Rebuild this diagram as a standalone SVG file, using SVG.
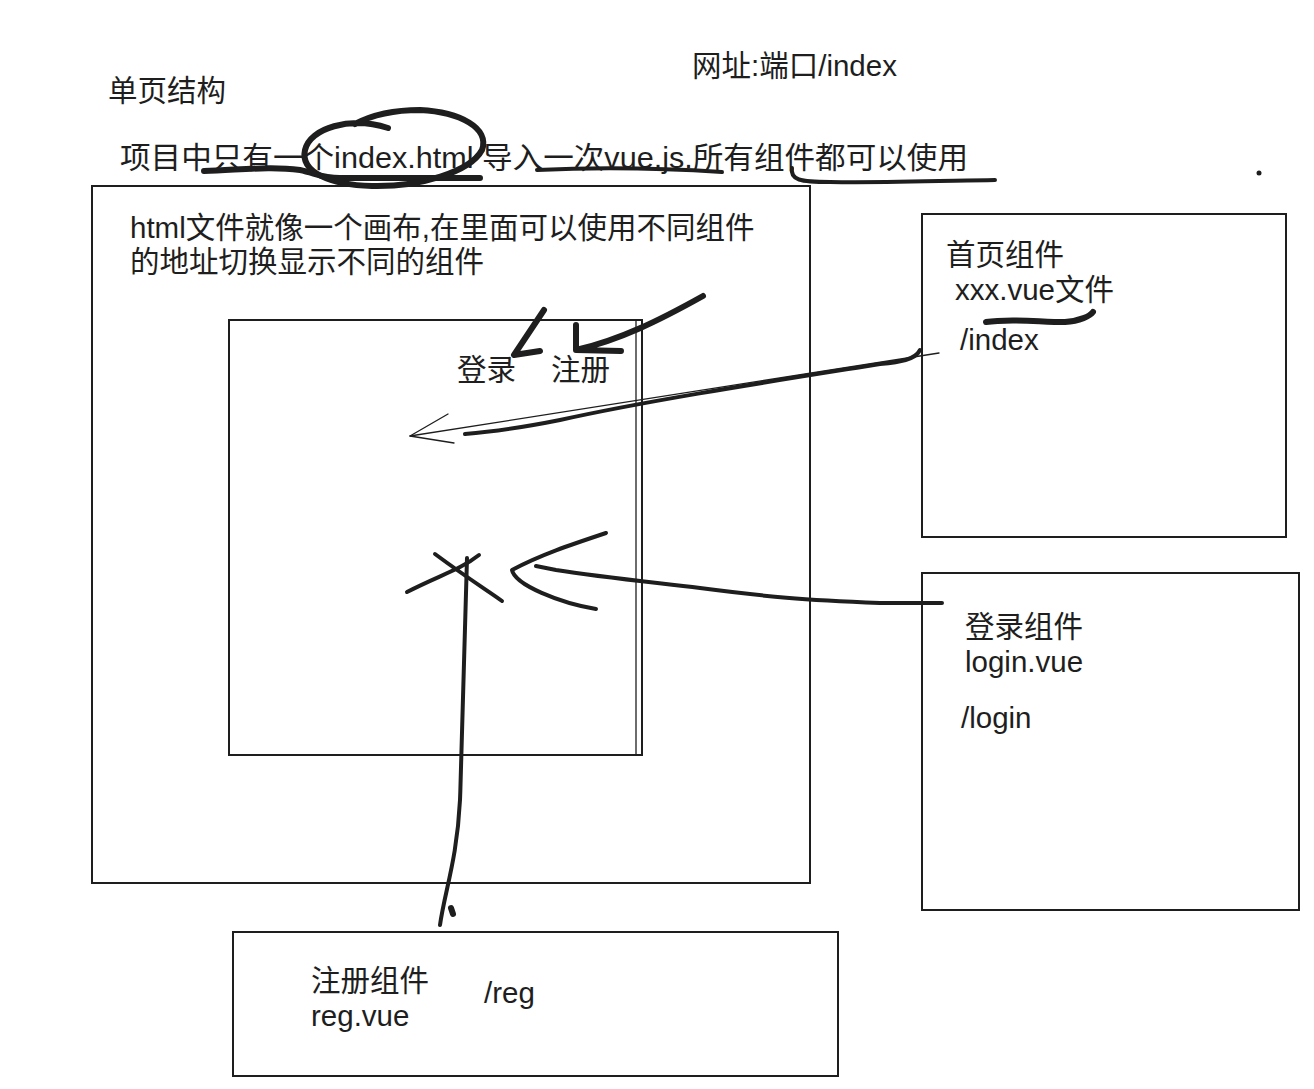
<svg xmlns="http://www.w3.org/2000/svg" width="1314" height="1089" viewBox="0 0 1314 1089">
<style>
text{font-family:"Liberation Sans","Noto Sans CJK SC",sans-serif;font-size:29.5px;fill:#1e1e1e}
.box{fill:none;stroke:#1e1e1e;stroke-width:2}
.thin{fill:none;stroke:#1e1e1e;stroke-width:1.3;stroke-linecap:round}
.thick{fill:none;stroke:#1e1e1e;stroke-width:6;stroke-linecap:round;stroke-linejoin:round}
.mid{fill:none;stroke:#1e1e1e;stroke-width:4;stroke-linecap:round;stroke-linejoin:round}
</style>
<rect width="1314" height="1089" fill="#fff"/>
<g id="titles">
<text x="108" y="101">单页结构</text>
<text x="692" y="76">网址:端口/index</text>
<text x="120" y="168" textLength="848" lengthAdjust="spacingAndGlyphs">项目中只有一个index.html 导入一次vue.js.所有组件都可以使用</text>
<circle cx="1259" cy="173" r="2.5" fill="#1e1e1e"/>
</g>
<g id="annotations">
<path class="thick" d="M204 171 C240 170 270 166 300 170 C315 173 322 178 340 178 L480 178"/>
<path class="thick" d="M388 128 C350 116 310 128 305 150 C300 172 330 185 372 186 C420 187 470 172 482 150 C490 128 460 112 420 110 C390 110 370 116 355 124"/>
<path class="mid" d="M537 170 C600 167 660 168 722 172"/>
<path class="mid" d="M792 168 C790 180 800 182 830 182 C880 183 940 181 995 180"/>
</g>
<g id="canvas">
<rect class="box" x="92" y="186" width="718" height="697"/>
<text x="130" y="238">html文件就像一个画布,在里面可以使用不同组件</text>
<text x="130" y="272">的地址切换显示不同的组件</text>
</g>
<g id="view">
<rect class="box" x="229" y="320" width="413" height="435"/>
<path class="thin" d="M636 320 L636 755"/>
<text x="457" y="380">登录</text>
<text x="551" y="380">注册</text>
</g>
<g id="home">
<rect class="box" x="922" y="214" width="364" height="323"/>
<text x="946" y="265">首页组件</text>
<text x="955" y="300">xxx.vue文件</text>
<text x="960" y="350">/index</text>
</g>
<g id="login">
<rect class="box" x="922" y="573" width="377" height="337"/>
<text x="965" y="637">登录组件</text>
<text x="965" y="672">login.vue</text>
<text x="961" y="728">/login</text>
</g>
<g id="reg">
<rect class="box" x="233" y="932" width="605" height="144"/>
<text x="311" y="991">注册组件</text>
<text x="311" y="1026">reg.vue</text>
<text x="484" y="1003">/reg</text>
</g>
<g id="connectors">
<path class="thick" d="M986 322 C1010 318 1040 322 1065 322 C1080 321 1090 316 1093 312"/>
<path class="thin" d="M939 353 L410 436"/>
<path class="thin" d="M410 436 L448 414 M410 436 L454 443"/>
<path class="mid" d="M920 350 C915 360 900 362 880 364 C780 380 650 400 560 420 C520 428 490 432 465 434"/>
<path class="thick" d="M544 310 L514 355 L540 351"/>
<path class="thick" d="M703 296 C660 320 620 340 576 350 L576 325 M576 350 L621 351"/>
<path class="mid" d="M942 603 L880 603 C800 600 770 597 700 588 C650 582 600 577 556 570 L536 566"/>
<path class="mid" d="M606 533 C570 545 540 555 512 570 C515 585 560 603 596 609"/>
<path class="mid" d="M407 592 C440 575 460 570 479 555 M435 554 C470 580 490 592 502 601"/>
<path class="mid" d="M467 558 C464 640 463 720 460 800 C457 860 445 890 440 925"/>
<path class="thick" d="M451 908 L453 914"/>
</g>
</svg>
